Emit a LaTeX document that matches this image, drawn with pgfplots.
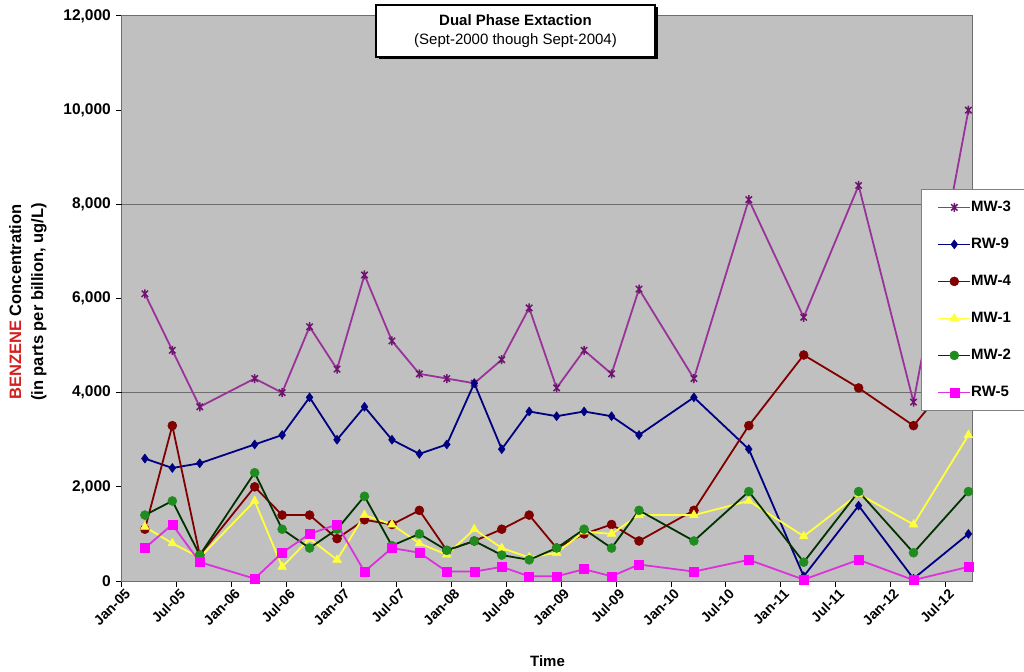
\documentclass[border=0pt]{standalone}
\usepackage{pgfplots}
\pgfplotsset{compat=1.18}
\usepackage{fontspec}
\setmainfont{Liberation Sans}
\definecolor{bggray}{RGB}{192,192,192}
\definecolor{gridc}{RGB}{110,110,110}
\definecolor{mwthree}{RGB}{153,51,153}
\definecolor{mwthreem}{RGB}{110,20,110}
\definecolor{rwnine}{RGB}{0,0,128}
\definecolor{mwfour}{RGB}{128,0,0}
\definecolor{mwone}{RGB}{255,255,60}
\definecolor{mwtwol}{RGB}{0,50,0}
\definecolor{mwtwom}{RGB}{30,140,30}
\definecolor{rwfive}{RGB}{220,50,220}
\definecolor{rwfivem}{RGB}{255,0,255}
\definecolor{benz}{RGB}{215,30,30}
\pgfdeclareplotmark{xstar}{%
  \pgfpathmoveto{\pgfqpoint{0pt}{\pgfplotmarksize}}%
  \pgfpathlineto{\pgfqpoint{0pt}{-\pgfplotmarksize}}%
  \pgfpathmoveto{\pgfpointpolar{45}{\pgfplotmarksize}}%
  \pgfpathlineto{\pgfpointpolar{225}{\pgfplotmarksize}}%
  \pgfpathmoveto{\pgfpointpolar{135}{\pgfplotmarksize}}%
  \pgfpathlineto{\pgfpointpolar{315}{\pgfplotmarksize}}%
  \pgfusepathqstroke}
\begin{document}
\begin{tikzpicture}
\path[use as bounding box] (-122bp,-91bp) rectangle (902bp,581bp);
\begin{axis}[
  width=851bp, height=565bp, scale only axis,
  xmin=0, xmax=93, ymin=0, ymax=12000,
  clip=false,
  axis background/.style={fill=bggray},
  axis line style={draw=gridc, line width=1bp},
  tick pos=left, tick align=outside, major tick length=6bp,
  tick style={black, line width=1bp},
  xtick={0,6,...,90},
  xticklabels={Jan-05,Jul-05,Jan-06,Jul-06,Jan-07,Jul-07,Jan-08,Jul-08,Jan-09,Jul-09,Jan-10,Jul-10,Jan-11,Jul-11,Jan-12,Jul-12},
  xticklabel style={rotate=45, anchor=north east, font=\bfseries\fontsize{14bp}{16bp}\selectfont, inner sep=2bp, xshift=3bp},
  ytick={0,2000,...,12000},
  yticklabels={0,{2,000},{4,000},{6,000},{8,000},{10,000},{12,000}},
  yticklabel style={font=\bfseries\fontsize{15.5bp}{18bp}\selectfont, inner sep=3bp, xshift=-2bp},
  extra y ticks={4000,8000},
  extra y tick labels={},
  extra y tick style={grid=major, major grid style={gridc, line width=1.3bp}},
  xlabel={Time},
  xlabel style={font=\bfseries\fontsize{15bp}{18bp}\selectfont, at={(axis description cs:0.5,-0.1416)}, anchor=center},
  ylabel={\textcolor{benz}{BENZENE} Concentration\\(in parts per billion, ug/L)},
  ylabel style={align=center, font=\bfseries\fontsize{16.5bp}{22bp}\selectfont, at={(axis description cs:-0.1105,0.494)}, anchor=center},
  legend style={at={(0.9389,0.6938)}, anchor=north west, draw=gray, line width=0.8bp, fill=white,
    font=\bfseries\fontsize{15bp}{18bp}\selectfont,
    nodes={inner sep=0pt, text height=11bp, text depth=3bp},
    row sep=23bp, inner xsep=16bp, inner ysep=11bp, cells={anchor=west}},
  legend image code/.code={\draw[mark repeat=2,mark phase=2] plot coordinates {(0bp,0bp) (16bp,0bp) (32bp,0bp)};},
  legend cell align=left,
  every axis plot/.append style={line width=1.8bp},
]
% MW-3
\addplot[color=mwthree, mark=xstar, mark size=4.5bp, mark options={draw=mwthreem, line width=1.5bp}] coordinates {
(2.5,6100) (5.5,4900) (8.5,3700) (14.5,4300) (17.5,4000) (20.5,5400) (23.5,4500) (26.5,6500) (29.5,5100)
(32.5,4400) (35.5,4300) (38.5,4200) (41.5,4700) (44.5,5800) (47.5,4100) (50.5,4900) (53.5,4400) (56.5,6200)
(62.5,4300) (68.5,8100) (74.5,5600) (80.5,8400) (86.5,3800) (92.5,10000)};
\addlegendentry{MW-3}
% RW-9
\addplot[color=rwnine, mark=diamond*, mark size=4.5bp, mark options={fill=rwnine, line width=0.5bp}] coordinates {
(2.5,2600) (5.5,2400) (8.5,2500) (14.5,2900) (17.5,3100) (20.5,3900) (23.5,3000) (26.5,3700) (29.5,3000)
(32.5,2700) (35.5,2900) (38.5,4200) (41.5,2800) (44.5,3600) (47.5,3500) (50.5,3600) (53.5,3500) (56.5,3100)
(62.5,3900) (68.5,2800) (74.5,100) (80.5,1600) (86.5,50) (92.5,1000)};
\addlegendentry{RW-9}
% MW-4
\addplot[color=mwfour, mark=*, mark size=4.5bp, mark options={fill=mwfour, line width=0.5bp}] coordinates {
(2.5,1100) (5.5,3300) (8.5,550) (14.5,2000) (17.5,1400) (20.5,1400) (23.5,900) (26.5,1300) (29.5,1200)
(32.5,1500) (35.5,650) (38.5,850) (41.5,1100) (44.5,1400) (47.5,700) (50.5,1000) (53.5,1200) (56.5,850)
(62.5,1500) (68.5,3300) (74.5,4800) (80.5,4100) (86.5,3300) (92.5,4700)};
\addlegendentry{MW-4}
% MW-1
\addplot[color=mwone, mark=triangle*, mark size=5bp, mark options={fill=mwone, line width=0.5bp}] coordinates {
(2.5,1150) (5.5,800) (8.5,500) (14.5,1700) (17.5,300) (20.5,900) (23.5,450) (26.5,1400) (29.5,1200)
(32.5,800) (35.5,560) (38.5,1100) (41.5,700) (44.5,500) (47.5,600) (50.5,1050) (53.5,1000) (56.5,1400)
(62.5,1400) (68.5,1700) (74.5,950) (80.5,1850) (86.5,1200) (92.5,3100)};
\addlegendentry{MW-1}
% MW-2
\addplot[color=mwtwol, mark=*, mark size=4.5bp, mark options={draw=mwtwom, fill=mwtwom, line width=0.5bp}] coordinates {
(2.5,1400) (5.5,1700) (8.5,550) (14.5,2300) (17.5,1100) (20.5,700) (23.5,1100) (26.5,1800) (29.5,750)
(32.5,1000) (35.5,650) (38.5,850) (41.5,550) (44.5,450) (47.5,700) (50.5,1100) (53.5,700) (56.5,1500)
(62.5,850) (68.5,1900) (74.5,400) (80.5,1900) (86.5,600) (92.5,1900)};
\addlegendentry{MW-2}
% RW-5
\addplot[color=rwfive, mark=square*, mark size=4.5bp, mark options={draw=rwfivem, fill=rwfivem, line width=0.5bp}] coordinates {
(2.5,700) (5.5,1200) (8.5,400) (14.5,50) (17.5,600) (20.5,1000) (23.5,1200) (26.5,200) (29.5,700)
(32.5,600) (35.5,200) (38.5,200) (41.5,300) (44.5,100) (47.5,100) (50.5,250) (53.5,100) (56.5,350)
(62.5,200) (68.5,450) (74.5,30) (80.5,450) (86.5,20) (92.5,300)};
\addlegendentry{RW-5}
\fill[black] ([xshift=2.5bp,yshift=-2.5bp]rel axis cs:0.2985,1.0195) rectangle ([xshift=2.5bp,yshift=-2.5bp]rel axis cs:0.6264,0.9275);
\node[draw=black, line width=1.5bp, fill=white, minimum width=279bp, minimum height=52bp, align=center, inner sep=0pt,
  font=\fontsize{15bp}{19bp}\selectfont] at (rel axis cs:0.4624,0.9735) {\textbf{Dual Phase Extaction}\\(Sept-2000 though Sept-2004)};
\end{axis}
\end{tikzpicture}
\end{document}
